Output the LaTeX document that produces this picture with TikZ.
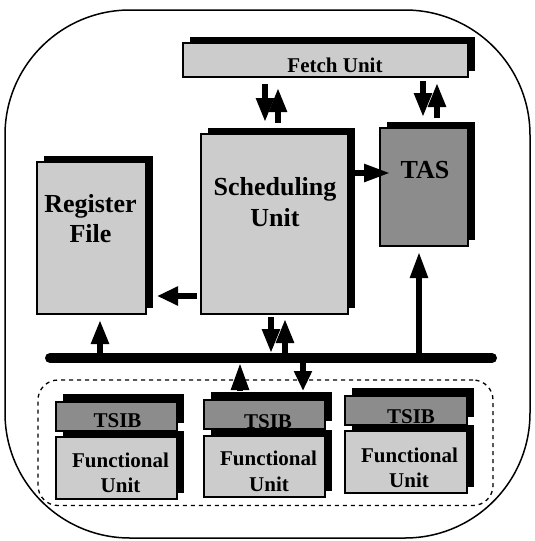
\documentclass[tikz,border=0pt]{standalone}
\usepackage{fontspec}
\setmainfont{Liberation Serif}
\usetikzlibrary{arrows.meta,shadows}
\definecolor{lg}{RGB}{204,204,204}
\definecolor{dg}{RGB}{140,140,140}
\begin{document}
\begin{tikzpicture}[x=1pt,y=-1pt,
  box/.style={draw=black, line width=1.2pt, inner sep=0pt, outer sep=0pt},
  lbox/.style={box, fill=lg},
  dbox/.style={box, fill=dg},
  shad/.style={drop shadow={shadow xshift=6.5pt, shadow yshift=6.5pt, fill=black, opacity=1}},
  tshad/.style={drop shadow={shadow xshift=6.5pt, shadow yshift=8pt, fill=black, opacity=1}},
  fshad/.style={drop shadow={shadow xshift=6.5pt, shadow yshift=6pt, fill=black, opacity=1}},
  arr/.style={line width=5.5pt, -{Triangle[length=24pt,width=17pt]}},
  big/.style={font=\fontsize{26}{31}\selectfont\bfseries, inner sep=0pt, anchor=base},
  mid/.style={font=\fontsize{21}{25}\selectfont\bfseries, inner sep=0pt, anchor=base},
]
\useasboundingbox (0,0) rectangle (535,541);

% outer frame and functional-unit pool
\node[draw, line width=1.5pt, rounded corners=125pt, minimum width=525pt, minimum height=528pt, inner sep=0pt] (outer) at (267.5,274) {};
\node[draw, line width=1.3pt, dash pattern=on 4pt off 4pt, rounded corners=20pt, minimum width=455pt, minimum height=125.5pt, inner sep=0pt] (pool) at (265.5,442.75) {};

% main boxes
\node[lbox, shad, minimum width=285pt, minimum height=34pt] (fetch) at (325.5,60) {};
\node[lbox, shad, minimum width=147pt, minimum height=180pt] (sched) at (274.5,224) {};
\node[lbox, shad, minimum width=109pt, minimum height=152pt] (reg) at (91.5,238) {};
\node[dbox, shad, minimum width=88pt, minimum height=118pt] (tas) at (424,187) {};

% functional units
\node[dbox, tshad, minimum width=121pt, minimum height=29pt] (tsib1) at (116.5,416.5) {};
\node[lbox, fshad, minimum width=121pt, minimum height=62pt] (fu1) at (116.5,468) {};
\node[dbox, tshad, minimum width=121pt, minimum height=29pt] (tsib2) at (264.5,414.5) {};
\node[lbox, fshad, minimum width=121pt, minimum height=61pt] (fu2) at (264.5,466.5) {};
\node[dbox, tshad, minimum width=122pt, minimum height=29pt] (tsib3) at (406,410.5) {};
\node[lbox, fshad, minimum width=122pt, minimum height=62pt] (fu3) at (406,462) {};

% texts
\node[mid] (fetcht) at (335,72) {Fetch Unit};
\node[big] (scht1) at (275,195) {Scheduling};
\node[big] (scht2) at (275,226) {Unit};
\node[big] (regt1) at (90.5,212) {Register};
\node[big] (regt2) at (90.5,242) {File};
\node[big] (tast) at (425,178.5) {TAS};
\node[mid] (ts1) at (117.5,427) {TSIB};
\node[mid] (fu1a) at (120.5,467) {Functional};
\node[mid] (fu1b) at (120.5,492) {Unit};
\node[mid] (ts2) at (268,428) {TSIB};
\node[mid] (fu2a) at (268.5,465) {Functional};
\node[mid] (fu2b) at (269,491) {Unit};
\node[mid] (ts3) at (411,423) {TSIB};
\node[mid] (fu3a) at (409.5,462) {Functional};
\node[mid] (fu3b) at (409,487) {Unit};

% bus
\coordinate (busL) at (50,358);
\coordinate (busR) at (492,358);
\draw[line width=10pt, line cap=round] (busL) -- (busR);

% arrows
\draw[arr] ([shift={(-60.5,7)}]fetch.south) -- ([shift={(-9.5,-12)}]sched.north);
\draw[arr] ([shift={(3.5,-11)}]sched.north) -- ([shift={(-47.5,11)}]fetch.south);
\draw[arr] ([shift={(97.5,4)}]fetch.south) -- ([shift={(-1,-11)}]tas.north);
\draw[arr] ([shift={(13,-10)}]tas.north) -- ([shift={(111.5,6)}]fetch.south);
\draw[arr, -{Triangle[length=26pt,width=17pt]}] ([shift={(7,-51)}]sched.east) -- ([shift={(10,-14)}]tas.west);
\draw[arr, -{Triangle[length=21pt,width=18pt]}] ([shift={(-4,72)}]sched.west) -- ([shift={(11,58)}]reg.east);
\draw[arr] ([xshift=50pt]busL) -- ([shift={(8.5,6)}]reg.south);
\draw[arr] ([shift={(-3.5,3)}]sched.south) -- ([shift={(221,-5)}]busL);
\draw[arr] ([shift={(235,0)}]busL) -- ([shift={(10.5,5)}]sched.south);
\draw[arr, -{Triangle[length=27pt,width=17pt]}] ([shift={(-24.5,-9)}]tsib2.north) -- ([shift={(190,5)}]busL);
\draw[arr, -{Triangle[length=20pt,width=17pt]}] ([shift={(253,0)}]busL) -- ([shift={(38.5,-9)}]tsib2.north);
\draw[arr, -{Triangle[length=26pt,width=17pt]}] ([shift={(369,0)}]busL) -- ([shift={(-5,6)}]tas.south);
\end{tikzpicture}
\end{document}
